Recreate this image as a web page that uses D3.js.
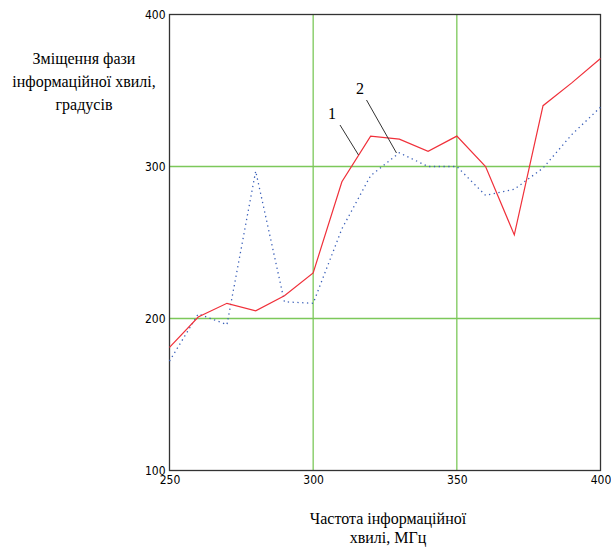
<!DOCTYPE html>
<html><head><meta charset="utf-8">
<script src="https://cdn.jsdelivr.net/npm/d3@7"></script>
<style>body{margin:0;background:#fff}svg{display:block}</style>
</head><body>
<svg id="c" width="611" height="553"></svg>
<script>
const freq = [250,260,270,280,290,300,310,320,330,340,350,360,370,380,390,400];
const series1 = [181,201,210,205,215,230,290,320,318,310,320,300,255,340,355,371];
const series2 = [172,203,196,297,211,210,259,294,309,300,300,281,285,299,321,339];
const xTicks = [250,300,350,400];
const yTicks = [100,200,300,400];
const yTitle = ["Зміщення фази","інформаційної хвилі,","градусів"];
const xTitle = ["Частота інформаційної","хвилі, МГц"];

const svg = d3.select("#c");
const x = d3.scaleLinear().domain([250,400]).range([169.5,600.5]);
const y = d3.scaleLinear().domain([100,400]).range([470.5,14.5]);

// grid
svg.append("g").selectAll("line").data(xTicks.slice(1,-1)).join("line")
  .attr("x1",d=>x(d)).attr("x2",d=>x(d)).attr("y1",y(400)).attr("y2",y(100))
  .attr("stroke","#7cc85a").attr("stroke-width",1.3);
svg.append("g").selectAll("line").data(yTicks.slice(1,-1)).join("line")
  .attr("y1",d=>y(d)).attr("y2",d=>y(d)).attr("x1",x(250)).attr("x2",x(400))
  .attr("stroke","#7cc85a").attr("stroke-width",1.3);

// frame
svg.append("rect").attr("x",x(250)).attr("y",y(400)).attr("width",x(400)-x(250)).attr("height",y(100)-y(400))
  .attr("fill","none").attr("stroke","#333").attr("stroke-width",1.3);

// axes labels
const xAxis = d3.axisBottom(x).tickValues(xTicks).tickSize(0).tickFormat(d3.format("d"));
const gx = svg.append("g").attr("transform",`translate(0,${y(100)})`).call(xAxis);
gx.select(".domain").remove();
gx.selectAll("text").attr("dy","0.9em").attr("font-family","'DejaVu Sans Condensed','Liberation Sans Narrow',sans-serif").attr("font-size",12).attr("fill","#000");
const yAxis = d3.axisLeft(y).tickValues(yTicks).tickSize(0).tickFormat(d3.format("d"));
const gy = svg.append("g").attr("transform",`translate(${x(250)-1},0)`).call(yAxis);
gy.select(".domain").remove();
gy.selectAll("text").attr("font-family","'DejaVu Sans Condensed','Liberation Sans Narrow',sans-serif").attr("font-size",12).attr("fill","#000").attr("dx","0");

// lines
const line = d3.line().x((d,i)=>x(freq[i])).y(d=>y(d));
svg.append("path").datum(series2).attr("d",line).attr("fill","none")
  .attr("stroke","#3a5fb8").attr("stroke-width",1.3).attr("stroke-dasharray","1.3,3.5");
svg.append("path").datum(series1).attr("d",line).attr("fill","none")
  .attr("stroke","#f0303a").attr("stroke-width",1.2);

// annotations
const serif = "'Liberation Serif','Times New Roman',serif";
svg.append("line").attr("x1",340).attr("y1",125).attr("x2",358.5).attr("y2",155).attr("stroke","#333").attr("stroke-width",1);
svg.append("line").attr("x1",366.5).attr("y1",100).attr("x2",396.5).attr("y2",153).attr("stroke","#333").attr("stroke-width",1);
svg.append("text").attr("x",332).attr("y",119).attr("text-anchor","middle").attr("font-family",serif).attr("font-size",16).text("1");
svg.append("text").attr("x",360).attr("y",94).attr("text-anchor","middle").attr("font-family",serif).attr("font-size",16).text("2");

// titles
svg.append("g").selectAll("text").data(yTitle).join("text")
  .attr("x",84).attr("y",(d,i)=>64+i*23).attr("text-anchor","middle")
  .attr("font-family",serif).attr("font-size",16).attr("fill","#000").text(d=>d);
svg.append("g").selectAll("text").data(xTitle).join("text")
  .attr("x",388).attr("y",(d,i)=>524+i*19).attr("text-anchor","middle")
  .attr("font-family",serif).attr("font-size",16).attr("fill","#000").text(d=>d);
</script>
</body></html>
